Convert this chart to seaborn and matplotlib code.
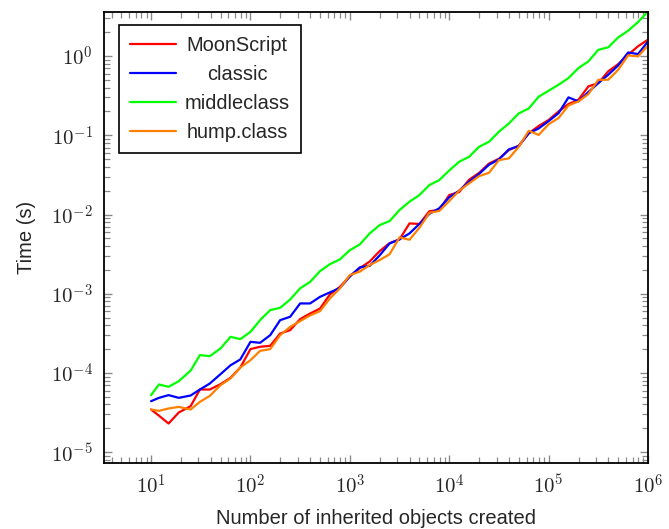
import math
import seaborn as sns
import matplotlib.pyplot as plt
import matplotlib.ticker as mticker
from matplotlib.offsetbox import VPacker
import pandas as pd

# number of inherited objects created (10 samples per decade)
n_objects = [
    10, 12, 15, 19, 25, 31, 39, 50, 63, 79,
    100, 125, 158, 199, 251, 316, 398, 501, 630, 794,
    1000, 1258, 1584, 1995, 2511, 3162, 3981, 5011, 6309, 7943,
    10000, 12589, 15848, 19952, 25118, 31622, 39810, 50118, 63095, 79432,
    100000, 125892, 158489, 199526, 251188, 316227, 398107, 501187, 630957, 794328,
    1000000,
]

moonscript = [
    3.46e-5, 2.89e-5, 2.30e-5, 3.17e-5, 3.81e-5, 6.18e-5, 6.18e-5, 7.22e-5, 8.68e-5, 1.17e-4,
    2.00e-4, 2.14e-4, 2.20e-4, 3.15e-4, 3.47e-4, 4.78e-4, 5.63e-4, 6.50e-4, 9.80e-4, 1.22e-3,
    1.67e-3, 2.10e-3, 2.55e-3, 3.45e-3, 4.35e-3, 4.85e-3, 7.72e-3, 7.60e-3, 1.10e-2, 1.14e-2,
    1.76e-2, 1.92e-2, 2.75e-2, 3.35e-2, 4.40e-2, 5.05e-2, 6.50e-2, 7.40e-2, 0.106, 0.131,
    0.156, 0.200, 0.248, 0.281, 0.414, 0.456, 0.641, 0.792, 1.04, 1.33,
    1.61,
]

classic = [
    4.40e-5, 4.85e-5, 5.25e-5, 4.85e-5, 5.19e-5, 6.18e-5, 7.36e-5, 9.66e-5, 1.25e-4, 1.48e-4,
    2.47e-4, 2.40e-4, 3.00e-4, 4.64e-4, 5.12e-4, 7.54e-4, 7.54e-4, 9.14e-4, 1.04e-3, 1.18e-3,
    1.65e-3, 2.15e-3, 2.25e-3, 3.05e-3, 4.31e-3, 4.85e-3, 5.77e-3, 7.60e-3, 1.02e-2, 1.20e-2,
    1.65e-2, 2.00e-2, 2.60e-2, 3.25e-2, 4.25e-2, 4.96e-2, 6.64e-2, 7.31e-2, 0.106, 0.122,
    0.151, 0.190, 0.301, 0.268, 0.351, 0.456, 0.581, 0.762, 1.11, 1.06,
    1.53,
]

middleclass = [
    5.25e-5, 7.16e-5, 6.68e-5, 7.88e-5, 1.07e-4, 1.68e-4, 1.63e-4, 2.04e-4, 2.86e-4, 2.67e-4,
    3.30e-4, 4.64e-4, 6.21e-4, 6.64e-4, 8.47e-4, 1.17e-3, 1.41e-3, 1.93e-3, 2.36e-3, 2.71e-3,
    3.55e-3, 4.19e-3, 5.77e-3, 7.35e-3, 8.26e-3, 1.14e-2, 1.45e-2, 1.76e-2, 2.35e-2, 2.72e-2,
    3.60e-2, 4.63e-2, 5.35e-2, 7.16e-2, 8.28e-2, 0.111, 0.141, 0.189, 0.218, 0.307,
    0.365, 0.435, 0.528, 0.705, 0.857, 1.20, 1.29, 1.72, 2.09, 2.69,
    3.66,
]

hump_class = [
    3.46e-5, 3.32e-5, 3.56e-5, 3.73e-5, 3.46e-5, 4.31e-5, 5.14e-5, 7.02e-5, 8.53e-5, 1.17e-4,
    1.45e-4, 1.90e-4, 2.00e-4, 3.00e-4, 3.82e-4, 4.51e-4, 5.32e-4, 6.03e-4, 8.71e-4, 1.17e-3,
    1.72e-3, 1.90e-3, 2.30e-3, 2.66e-3, 3.15e-3, 5.15e-3, 4.80e-3, 6.80e-3, 1.05e-2, 1.11e-2,
    1.48e-2, 2.00e-2, 2.47e-2, 3.05e-2, 3.36e-2, 4.86e-2, 5.11e-2, 7.16e-2, 0.114, 0.101,
    0.138, 0.165, 0.238, 0.268, 0.331, 0.502, 0.502, 0.671, 1.02, 0.99,
    1.36,
]

series_names = ["MoonScript", "classic", "middleclass", "hump.class"]
series_values = [moonscript, classic, middleclass, hump_class]
colors = {"MoonScript": "#ff0000", "classic": "#0000ff",
          "middleclass": "#00ff00", "hump.class": "#ff8000"}

frames = []
for name, vals in zip(series_names, series_values):
    frames.append(pd.DataFrame({"n": n_objects, "time": vals, "lib": name}))
df = pd.concat(frames, ignore_index=True)

sns.set_style("ticks")
plt.rcParams["font.family"] = ["Liberation Sans", "DejaVu Sans"]
plt.rcParams["mathtext.fontset"] = "cm"

fig = plt.figure(figsize=(6.69, 5.29), dpi=100)
ax = fig.add_axes([104 / 669, 1 - 463 / 529, 544 / 669, 451 / 529])

sns.lineplot(data=df, x="n", y="time", hue="lib", hue_order=series_names,
             palette=colors, linewidth=1.6, estimator=None, sort=False, ax=ax)

ax.set_xscale("log")
ax.set_yscale("log")
ax.set_xlim(3.36, 1e6)
ax.set_ylim(7.3e-6, 3.6)

fmt = mticker.FuncFormatter(lambda v, p: r"$10^{%d}$" % round(math.log10(v)))
for axis in (ax.xaxis, ax.yaxis):
    axis.set_major_locator(mticker.LogLocator(base=10, numticks=20))
    axis.set_minor_locator(mticker.LogLocator(base=10, subs=range(2, 10), numticks=20))
    axis.set_major_formatter(fmt)
    axis.set_minor_formatter(mticker.NullFormatter())

ax.tick_params(which="both", direction="in", top=True, right=True, color="#8a8a8a")
ax.tick_params(which="major", length=6, width=1.0, labelsize=15, pad=8)
ax.tick_params(which="minor", length=4, width=0.9)
for s in ax.spines.values():
    s.set_linewidth(1.3)
    s.set_color("black")

ax.set_xlabel("Number of inherited objects created", fontsize=14.5, labelpad=8)
ax.set_ylabel("Time (s)", fontsize=14.5, labelpad=11)

leg = ax.legend(loc="upper left", bbox_to_anchor=(15 / 544, 1 - 13 / 451),
                borderaxespad=0, fontsize=14.4, handlelength=2.3, handletextpad=0.4,
                labelspacing=0.5, borderpad=0.55, fancybox=False, framealpha=1,
                edgecolor="black")
leg.get_frame().set_linewidth(1.2)

# centre the label texts in their column, like the pgfplots legend
for col in leg._legend_handle_box.get_children():
    for item in col.get_children():
        handle, text = item.get_children()
        box = VPacker(children=[text], width=106, align="center", pad=0, sep=0)
        box.set_figure(fig)
        item._children = [handle, box]

plt.savefig("out.png", dpi=100)
